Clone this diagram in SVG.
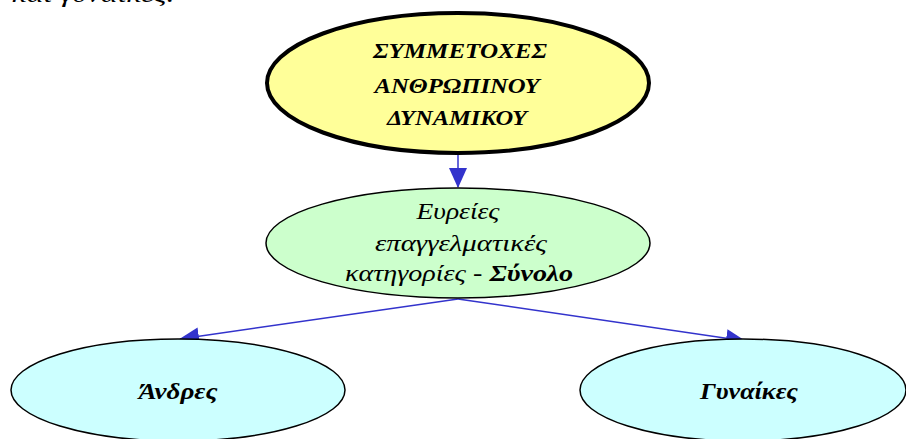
<svg xmlns="http://www.w3.org/2000/svg" width="906" height="439" viewBox="0 0 906 439">
<style>
.t{font-family:"Liberation Serif","DejaVu Serif",serif;font-style:italic;text-anchor:middle;fill:#000}
.b{font-weight:bold}
.conn line{stroke:#3333CC;stroke-width:1.5}
</style>
<defs>
<marker id="ah2" markerWidth="20" markerHeight="20" refX="19" refY="10" orient="auto" markerUnits="userSpaceOnUse" viewBox="0 0 20 20">
<path d="M0,1 L20,10 L0,19 Z" fill="#3333CC"/>
</marker>
</defs>
<rect width="906" height="439" fill="#fff"/>
<text class="t" x="93" y="2" font-size="24" textLength="163" lengthAdjust="spacingAndGlyphs">και γυναίκες.</text>
<g class="conn">
<line x1="458" y1="155" x2="458" y2="187" marker-end="url(#ah2)"/>
<line x1="458" y1="299" x2="180" y2="339" marker-end="url(#ah2)"/>
<line x1="458" y1="299" x2="745" y2="341" marker-end="url(#ah2)"/>
</g>
<g id="top">
<ellipse cx="458" cy="83" rx="191" ry="70" fill="#FFFF99" stroke="#000" stroke-width="4"/>
<text class="t b" font-size="21" x="460" y="58" textLength="174" lengthAdjust="spacingAndGlyphs">ΣΥΜΜΕΤΟΧΕΣ</text>
<text class="t b" font-size="21" x="457" y="93" textLength="165" lengthAdjust="spacingAndGlyphs">ΑΝΘΡΩΠΙΝΟΥ</text>
<text class="t b" font-size="21" x="457" y="125" textLength="140" lengthAdjust="spacingAndGlyphs">ΔΥΝΑΜΙΚΟΥ</text>
</g>
<g id="mid">
<ellipse cx="458" cy="243" rx="192" ry="55" fill="#CCFFCC" stroke="#000" stroke-width="1.5"/>
<text class="t" font-size="24" x="458" y="219" textLength="83" lengthAdjust="spacingAndGlyphs">Ευρείες</text>
<text class="t" font-size="24" x="461" y="251" textLength="172" lengthAdjust="spacingAndGlyphs">επαγγελματικές</text>
<text class="t" font-size="24" x="459" y="281" textLength="228" lengthAdjust="spacingAndGlyphs">κατηγορίες -  <tspan class="b">Σύνολο</tspan></text>
</g>
<g id="men">
<ellipse cx="178" cy="390" rx="167" ry="51" fill="#CCFFFF" stroke="#000" stroke-width="1.5"/>
<text class="t b" font-size="24" x="178" y="399" textLength="79" lengthAdjust="spacingAndGlyphs">Άνδρες</text>
</g>
<g id="women">
<ellipse cx="743" cy="390" rx="163" ry="51" fill="#CCFFFF" stroke="#000" stroke-width="1.5"/>
<text class="t b" font-size="24" x="749" y="399" textLength="98" lengthAdjust="spacingAndGlyphs">Γυναίκες</text>
</g>
</svg>
